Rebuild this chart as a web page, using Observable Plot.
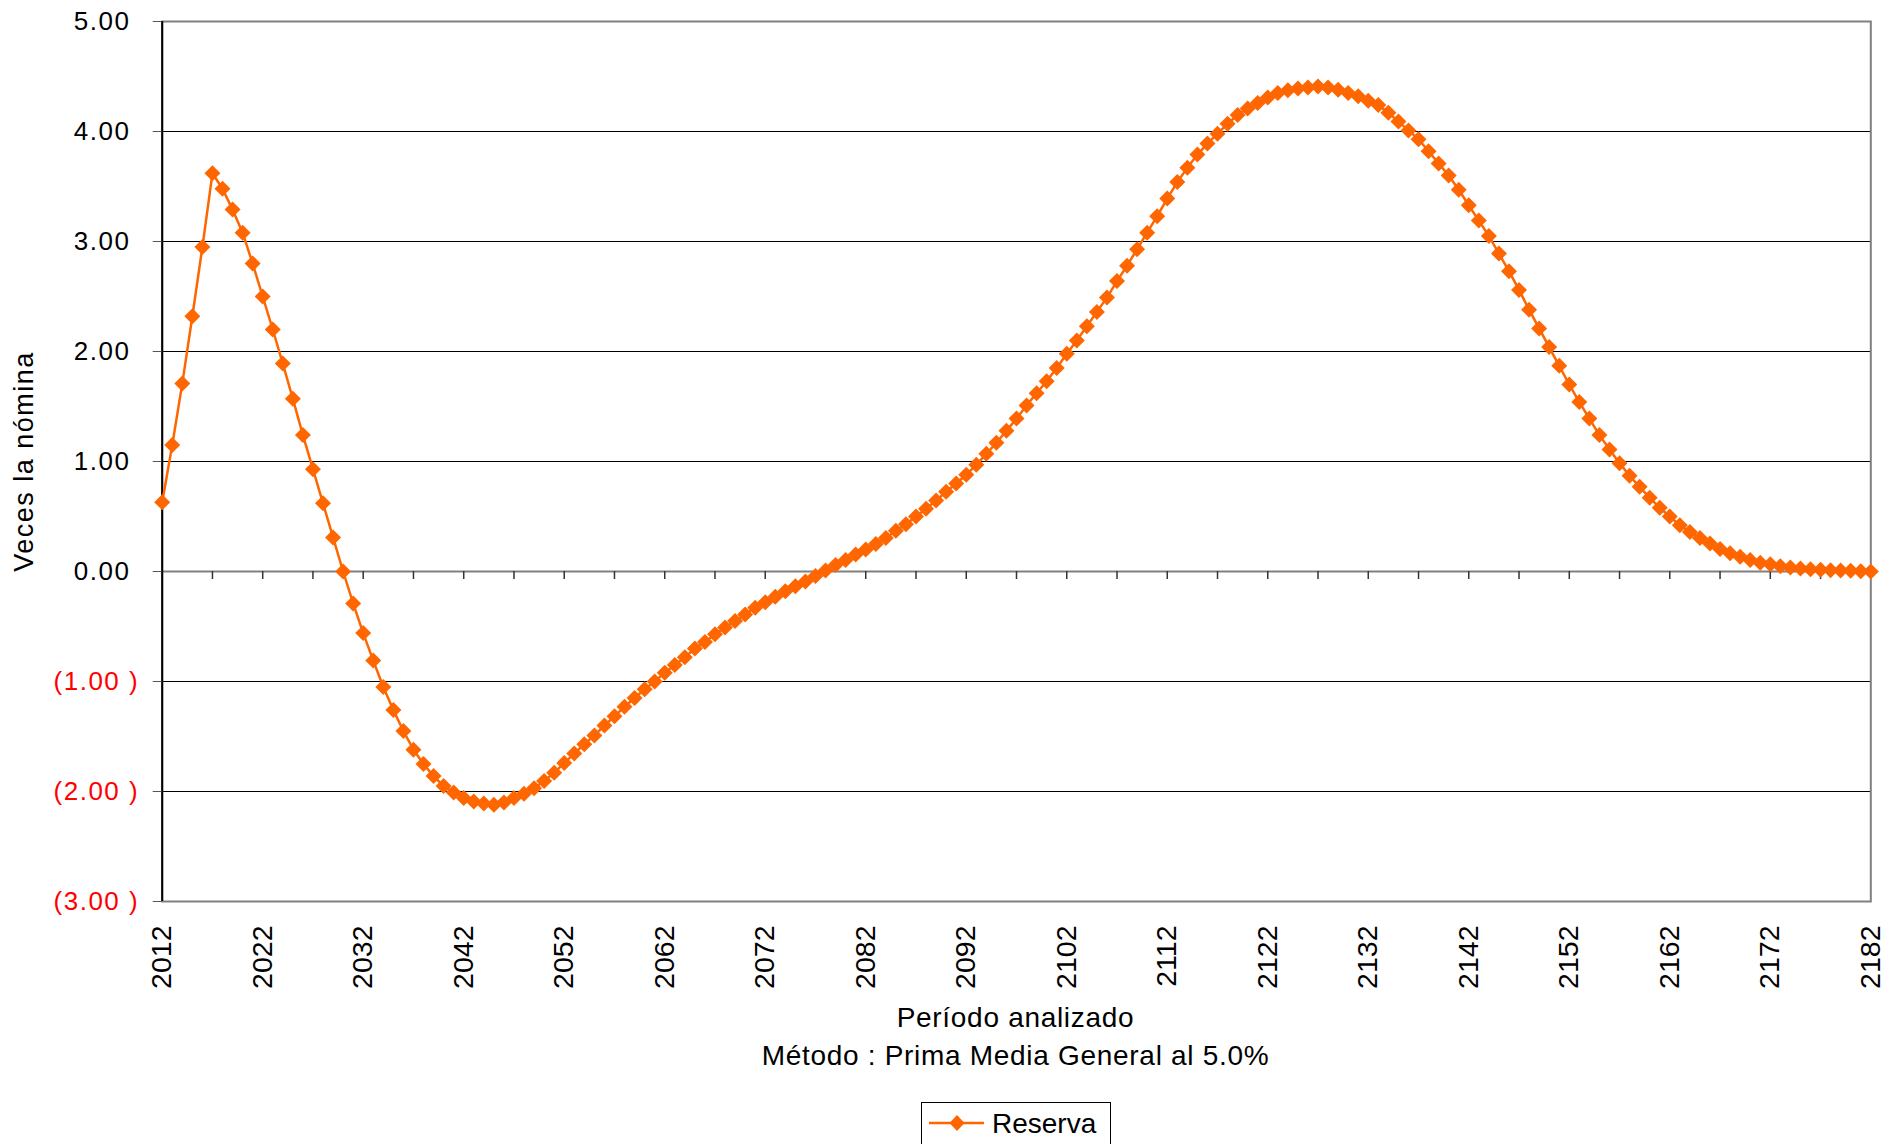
<!DOCTYPE html>
<html>
<head>
<meta charset="utf-8">
<script src="https://cdn.jsdelivr.net/npm/d3@7"></script>
<script src="https://cdn.jsdelivr.net/npm/@observablehq/plot@0.6"></script>
<style>
  html, body { margin: 0; padding: 0; background: #fff; overflow: hidden; }
  #wrap { position: relative; width: 1900px; height: 1144px; overflow: hidden; font-family: "Liberation Sans", Arial, sans-serif; color: #000; }
  .lbl { position: absolute; left: 161px; width: 1709px; text-align: center; font-size: 28px; line-height: 34px; letter-spacing: 0.7px; white-space: nowrap; }
  #legend { position: absolute; left: 921px; top: 1102px; width: 190px; height: 56px; border: 1px solid #000; box-sizing: border-box; background: #fff; }
  #legend svg { position: absolute; left: 7px; top: 10px; }
  #legend span { position: absolute; left: 70px; top: 7px; font-size: 28px; line-height: 28px; white-space: nowrap; }
</style>
</head>
<body>
<div id="wrap"></div>
<script>
// ---- Data ----
const years = d3.range(2012, 2183); // categories 2012..2182
const reserva = [
  0.63, 1.15, 1.71, 2.32, 2.95, 3.62, 3.48, 3.29, 3.08, 2.80,          // 2012-2021
  2.50, 2.20, 1.89, 1.57, 1.24, 0.93, 0.62, 0.31, 0.00, -0.29,         // 2022-2031
  -0.56, -0.81, -1.05, -1.26, -1.45, -1.62, -1.75, -1.86, -1.95, -2.01, // 2032-2041
  -2.06, -2.09, -2.11, -2.12, -2.10, -2.06, -2.02, -1.97, -1.905, -1.83, // 2042-2051
  -1.74, -1.655, -1.57, -1.49, -1.40, -1.315, -1.23, -1.15, -1.07, -1.00, // 2052-2061
  -0.92, -0.85, -0.78, -0.70, -0.64, -0.57, -0.51, -0.45, -0.39, -0.33, // 2062-2071
  -0.28, -0.23, -0.18, -0.135, -0.09, -0.04, 0.01, 0.06, 0.105, 0.155,  // 2072-2081
  0.20, 0.25, 0.305, 0.37, 0.43, 0.50, 0.57, 0.645, 0.725, 0.80,        // 2082-2091
  0.88, 0.97, 1.07, 1.17, 1.28, 1.39, 1.51, 1.62, 1.73, 1.85,           // 2092-2101
  1.98, 2.10, 2.23, 2.36, 2.49, 2.64, 2.78, 2.93, 3.08, 3.23,           // 2102-2111
  3.39, 3.54, 3.67, 3.79, 3.89, 3.98, 4.07, 4.15, 4.21, 4.26,           // 2112-2121
  4.31, 4.35, 4.375, 4.39, 4.40, 4.41, 4.40, 4.38, 4.35, 4.32,          // 2122-2131
  4.28, 4.24, 4.17, 4.09, 4.01, 3.93, 3.82, 3.71, 3.60, 3.47,           // 2132-2141
  3.33, 3.19, 3.05, 2.89, 2.73, 2.56, 2.38, 2.21, 2.04, 1.87,           // 2142-2151
  1.70, 1.54, 1.39, 1.24, 1.11, 0.985, 0.87, 0.77, 0.67, 0.58,          // 2152-2161
  0.50, 0.42, 0.36, 0.305, 0.255, 0.205, 0.165, 0.135, 0.105, 0.08,     // 2162-2171
  0.065, 0.048, 0.036, 0.027, 0.021, 0.015, 0.012, 0.009, 0.006, 0.003, // 2172-2181
  0.001                                                                 // 2182
];
const xLabelYears = [2012, 2022, 2032, 2042, 2052, 2062, 2072, 2082, 2092, 2102, 2112, 2122, 2132, 2142, 2152, 2162, 2172, 2182];
const xTickYears = [2017, 2022, 2027, 2032, 2037, 2042, 2047, 2052, 2057, 2062, 2067, 2072, 2077, 2082, 2087, 2092, 2097, 2102, 2107, 2112, 2117, 2122, 2127, 2132, 2137, 2142, 2147, 2152, 2157, 2162, 2167, 2172, 2177];
const yTicksPos = [0, 1, 2, 3, 4, 5];
const yTicksNeg = [-1, -2, -3];
const gridValues = [-2, -1, 1, 2, 3, 4];
const seriesName = "Reserva";
const yTitle = "Veces la nómina";
const xTitle = "Período analizado";
const subTitle = "Método : Prima Media General al 5.0%";
const lineColor = "#FF6600";

const rows = years.map((year, i) => ({year, value: reserva[i]}));

// ---- Chart ----
const H = 1001;
const chart = Plot.plot({
  width: 1900,
  height: H,
  marginLeft: 161.7,
  marginRight: 29.7,
  marginTop: 21,
  marginBottom: H - 901,
  style: {fontFamily: "'Liberation Sans', Arial, sans-serif", background: "#fff", color: "#000", letterSpacing: "1.5px", overflow: "visible"},
  x: {domain: [2012, 2182]},
  y: {domain: [-3, 5]},
  marks: [
    Plot.ruleY(gridValues, {stroke: "#000", strokeWidth: 1}),
    Plot.frame({stroke: "#808080", strokeWidth: 2}),
    Plot.ruleY([0], {stroke: "#808080", strokeWidth: 2}),
    Plot.ruleX(xTickYears, {y1: 0, y2: 0, insetBottom: -8, stroke: "#333", strokeWidth: 1.5}),
    Plot.ruleX([2012], {stroke: "#000", strokeWidth: 2}),
    Plot.axisY({ticks: yTicksPos, tickSize: 9, tickPadding: 14, stroke: "#555", fill: "#000", fontSize: 26,
      tickFormat: d => d.toFixed(2) + "\u00a0", label: null}),
    Plot.axisY({ticks: yTicksNeg, tickSize: 9, tickPadding: 14, stroke: "#555", fill: "#FF0000", fontSize: 26,
      tickFormat: d => "(" + Math.abs(d).toFixed(2) + " )", label: null}),
    Plot.axisX({ticks: xLabelYears, tickSize: 0, tickPadding: 24, tickRotate: -90, fontSize: 28.5,
      tickFormat: d => String(d), label: null}),
    Plot.text([yTitle], {text: d => d, frameAnchor: "left", dx: -137.5, rotate: -90, fontSize: 27,
      textAnchor: "middle", lineAnchor: "middle"}),
    Plot.line(rows, {x: "year", y: "value", stroke: lineColor, strokeWidth: 2.5}),
    Plot.dot(rows, {x: "year", y: "value", symbol: "diamond2", r: 7.2, fill: lineColor})
  ]
});

// x tick labels: no extra letter spacing
chart.querySelectorAll('g[aria-label="x-axis tick label"]').forEach(g => g.style.letterSpacing = "0px");

const wrap = document.getElementById("wrap");
wrap.appendChild(chart);

const t1 = document.createElement("div");
t1.className = "lbl";
t1.style.top = "1001px";
t1.textContent = xTitle;
wrap.appendChild(t1);

const t2 = document.createElement("div");
t2.className = "lbl";
t2.style.top = "1039px";
t2.textContent = subTitle;
wrap.appendChild(t2);

const legend = document.createElement("div");
legend.id = "legend";
legend.innerHTML =
  `<svg width="60" height="20" viewBox="0 0 60 20">
     <line x1="0" y1="10" x2="55" y2="10" stroke="${lineColor}" stroke-width="2.5"></line>
     <path d="M28,2 L35.5,10 L28,18 L20.5,10 Z" fill="${lineColor}"></path>
   </svg><span></span>`;
legend.querySelector("span").textContent = seriesName;
wrap.appendChild(legend);
</script>
</body>
</html>
